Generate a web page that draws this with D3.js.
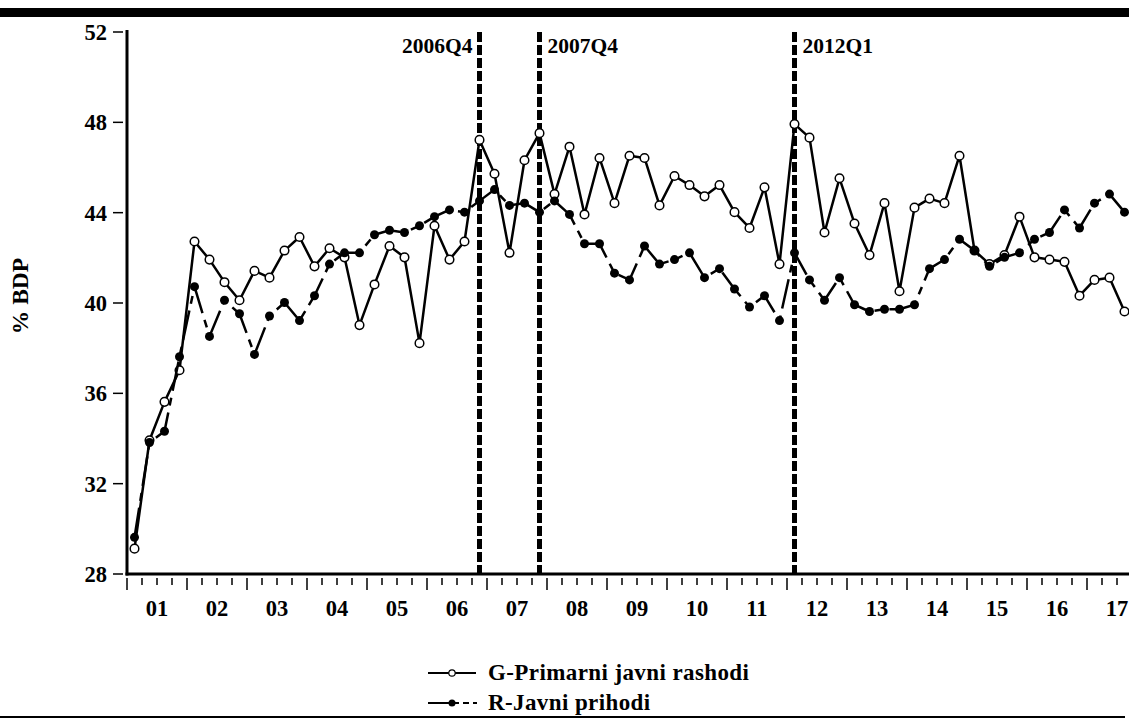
<!DOCTYPE html>
<html>
<head>
<meta charset="utf-8">
<script src="https://cdn.jsdelivr.net/npm/d3@7"></script>
<style>
  body { margin: 0; background: #fff; }
  svg { display: block; }
  text { font-family: "Liberation Serif", "Times New Roman", serif; font-weight: bold; fill: #000; }
</style>
</head>
<body>
<div id="chart"></div>
<script>
// quarterly data, 2001Q1 .. 2017Q3 (% BDP)
var years = ["01","02","03","04","05","06","07","08","09","10","11","12","13","14","15","16","17"]
var gValues = [
  29.1, 33.9, 35.6, 37.0, 42.7, 41.9, 40.9, 40.1, 41.4, 41.1, 42.3, 42.9,
  41.6, 42.4, 42.0, 39.0, 40.8, 42.5, 42.0, 38.2, 43.4, 41.9, 42.7, 47.2,
  45.7, 42.2, 46.3, 47.5, 44.8, 46.9, 43.9, 46.4, 44.4, 46.5, 46.4, 44.3,
  45.6, 45.2, 44.7, 45.2, 44.0, 43.3, 45.1, 41.7, 47.9, 47.3, 43.1, 45.5,
  43.5, 42.1, 44.4, 40.5, 44.2, 44.6, 44.4, 46.5, 42.3, 41.7, 42.1, 43.8,
  42.0, 41.9, 41.8, 40.3, 41.0, 41.1, 39.6
]
var rValues = [
  29.6, 33.8, 34.3, 37.6, 40.7, 38.5, 40.1, 39.5, 37.7, 39.4, 40.0, 39.2,
  40.3, 41.7, 42.2, 42.2, 43.0, 43.2, 43.1, 43.4, 43.8, 44.1, 44.0, 44.5,
  45.0, 44.3, 44.4, 44.0, 44.5, 43.9, 42.6, 42.6, 41.3, 41.0, 42.5, 41.7,
  41.9, 42.2, 41.1, 41.5, 40.6, 39.8, 40.3, 39.2, 42.2, 41.0, 40.1, 41.1,
  39.9, 39.6, 39.7, 39.7, 39.9, 41.5, 41.9, 42.8, 42.3, 41.6, 42.0, 42.2,
  42.8, 43.1, 44.1, 43.3, 44.4, 44.8, 44.0
]
var yTicks = [28, 32, 36, 40, 44, 48, 52]
var breaks = [{label: "2006Q4", q: 23, side: "left"}, {label: "2007Q4", q: 27, side: "right"}, {label: "2012Q1", q: 44, side: "right"}]
var seriesNames = ["G-Primarni javni rashodi", "R-Javni prihodi"]

var width = 1129, height = 718

var svg = d3.select("#chart").append("svg")
  .attr("width", width)
  .attr("height", height)

// x in quarter units: 0 = start of 2001Q1, point i sits at i+0.5
var x = d3.scaleLinear().domain([0, 66.8]).range([127, 1129])
var y = d3.scaleLinear().domain([28, 52]).range([573.5, 31.5])

// top bar and bottom rule
svg.append("rect").attr("x", 0).attr("y", 8).attr("width", width).attr("height", 9).attr("fill", "#000")
svg.append("line").attr("x1", 0).attr("x2", 1125).attr("y1", 717).attr("y2", 717)
  .attr("stroke", "#000").attr("stroke-width", 2)

// y axis
var yAxis = svg.append("g")
  .attr("transform", "translate(123,0)")
  .call(d3.axisLeft(y).tickValues(yTicks).tickSize(10).tickPadding(6).tickFormat(d3.format("d")))
yAxis.select(".domain").remove()
yAxis.selectAll(".tick line").attr("stroke", "#000").attr("stroke-width", 1.5)
yAxis.selectAll(".tick text")
  .style("font-size", "22.5px").style("font-family", "Liberation Serif").style("font-weight", "bold")
  .attr("dy", "0.35em")

svg.append("line").attr("x1", 127).attr("x2", 127).attr("y1", 30).attr("y2", 575.5)
  .attr("stroke", "#000").attr("stroke-width", 3)

// x axis
var qBounds = d3.range(0, 67)
svg.append("g").selectAll("line")
  .data(qBounds)
  .enter().append("line")
    .attr("x1", function(d) { return x(d) })
    .attr("x2", function(d) { return x(d) })
    .attr("y1", 578)
    .attr("y2", function(d) { return d % 4 == 0 ? 590 : 585 })
    .attr("stroke", "#000")
    .attr("stroke-width", 1.5)

svg.append("g").selectAll("text")
  .data(years)
  .enter().append("text")
    .attr("x", function(d, i) { return x(i * 4 + 2) })
    .attr("y", 616)
    .attr("text-anchor", "middle")
    .style("font-size", "22.5px")
    .text(function(d) { return d })

svg.append("line").attr("x1", 125.5).attr("x2", width).attr("y1", 574).attr("y2", 574)
  .attr("stroke", "#000").attr("stroke-width", 3)

// y title
svg.append("text")
  .attr("transform", "translate(28,296) rotate(-90)")
  .attr("text-anchor", "middle")
  .style("font-size", "23.5px")
  .text("% BDP")

// break lines
breaks.forEach(function(b) {
  var bx = x(b.q + 0.5)
  svg.append("line")
    .attr("x1", bx).attr("x2", bx).attr("y1", 32).attr("y2", 573)
    .attr("stroke", "#000").attr("stroke-width", 5)
    .attr("stroke-dasharray", "10,3")
  svg.append("text")
    .attr("x", b.side == "left" ? bx - 7 : bx + 8)
    .attr("y", 53)
    .attr("text-anchor", b.side == "left" ? "end" : "start")
    .style("font-size", "21.5px")
    .text(b.label)
})

var line = d3.line()
  .x(function(d, i) { return x(i + 0.5) })
  .y(function(d) { return y(d) })

// G series
svg.append("path")
  .datum(gValues)
  .attr("d", line)
  .attr("fill", "none")
  .attr("stroke", "#000")
  .attr("stroke-width", 2.5)
  .attr("stroke-linejoin", "round")

svg.append("g").selectAll("circle")
  .data(gValues)
  .enter().append("circle")
    .attr("cx", function(d, i) { return x(i + 0.5) })
    .attr("cy", function(d) { return y(d) })
    .attr("r", 4.3)
    .attr("fill", "#fff")
    .attr("stroke", "#000")
    .attr("stroke-width", 1.5)

// R series
svg.append("path")
  .datum(rValues)
  .attr("d", line)
  .attr("fill", "none")
  .attr("stroke", "#000")
  .attr("stroke-width", 2.5)
  .attr("stroke-dasharray", "30,7,8,7")

svg.append("g").selectAll("circle")
  .data(rValues)
  .enter().append("circle")
    .attr("cx", function(d, i) { return x(i + 0.5) })
    .attr("cy", function(d) { return y(d) })
    .attr("r", 4.5)
    .attr("fill", "#000")

// legend
var legend = svg.append("g")
var legRows = [{name: seriesNames[0], y: 673, open: true}, {name: seriesNames[1], y: 703, open: false}]
legRows.forEach(function(r) {
  if (r.open) {
    legend.append("line").attr("x1", 428).attr("x2", 476).attr("y1", r.y).attr("y2", r.y)
      .attr("stroke", "#000").attr("stroke-width", 2)
    legend.append("circle").attr("cx", 452).attr("cy", r.y).attr("r", 3.2)
      .attr("fill", "#fff").attr("stroke", "#000").attr("stroke-width", 1.2)
  } else {
    legend.append("line").attr("x1", 428).attr("x2", 477).attr("y1", r.y).attr("y2", r.y)
      .attr("stroke", "#000").attr("stroke-width", 2)
      .attr("stroke-dasharray", "31,4,6,4")
    legend.append("circle").attr("cx", 452).attr("cy", r.y).attr("r", 3.5).attr("fill", "#000")
  }
  legend.append("text")
    .attr("x", 488).attr("y", r.y + 7)
    .style("font-size", "23px")
    .style("letter-spacing", "0.4px")
    .text(r.name)
})
</script>
</body>
</html>
